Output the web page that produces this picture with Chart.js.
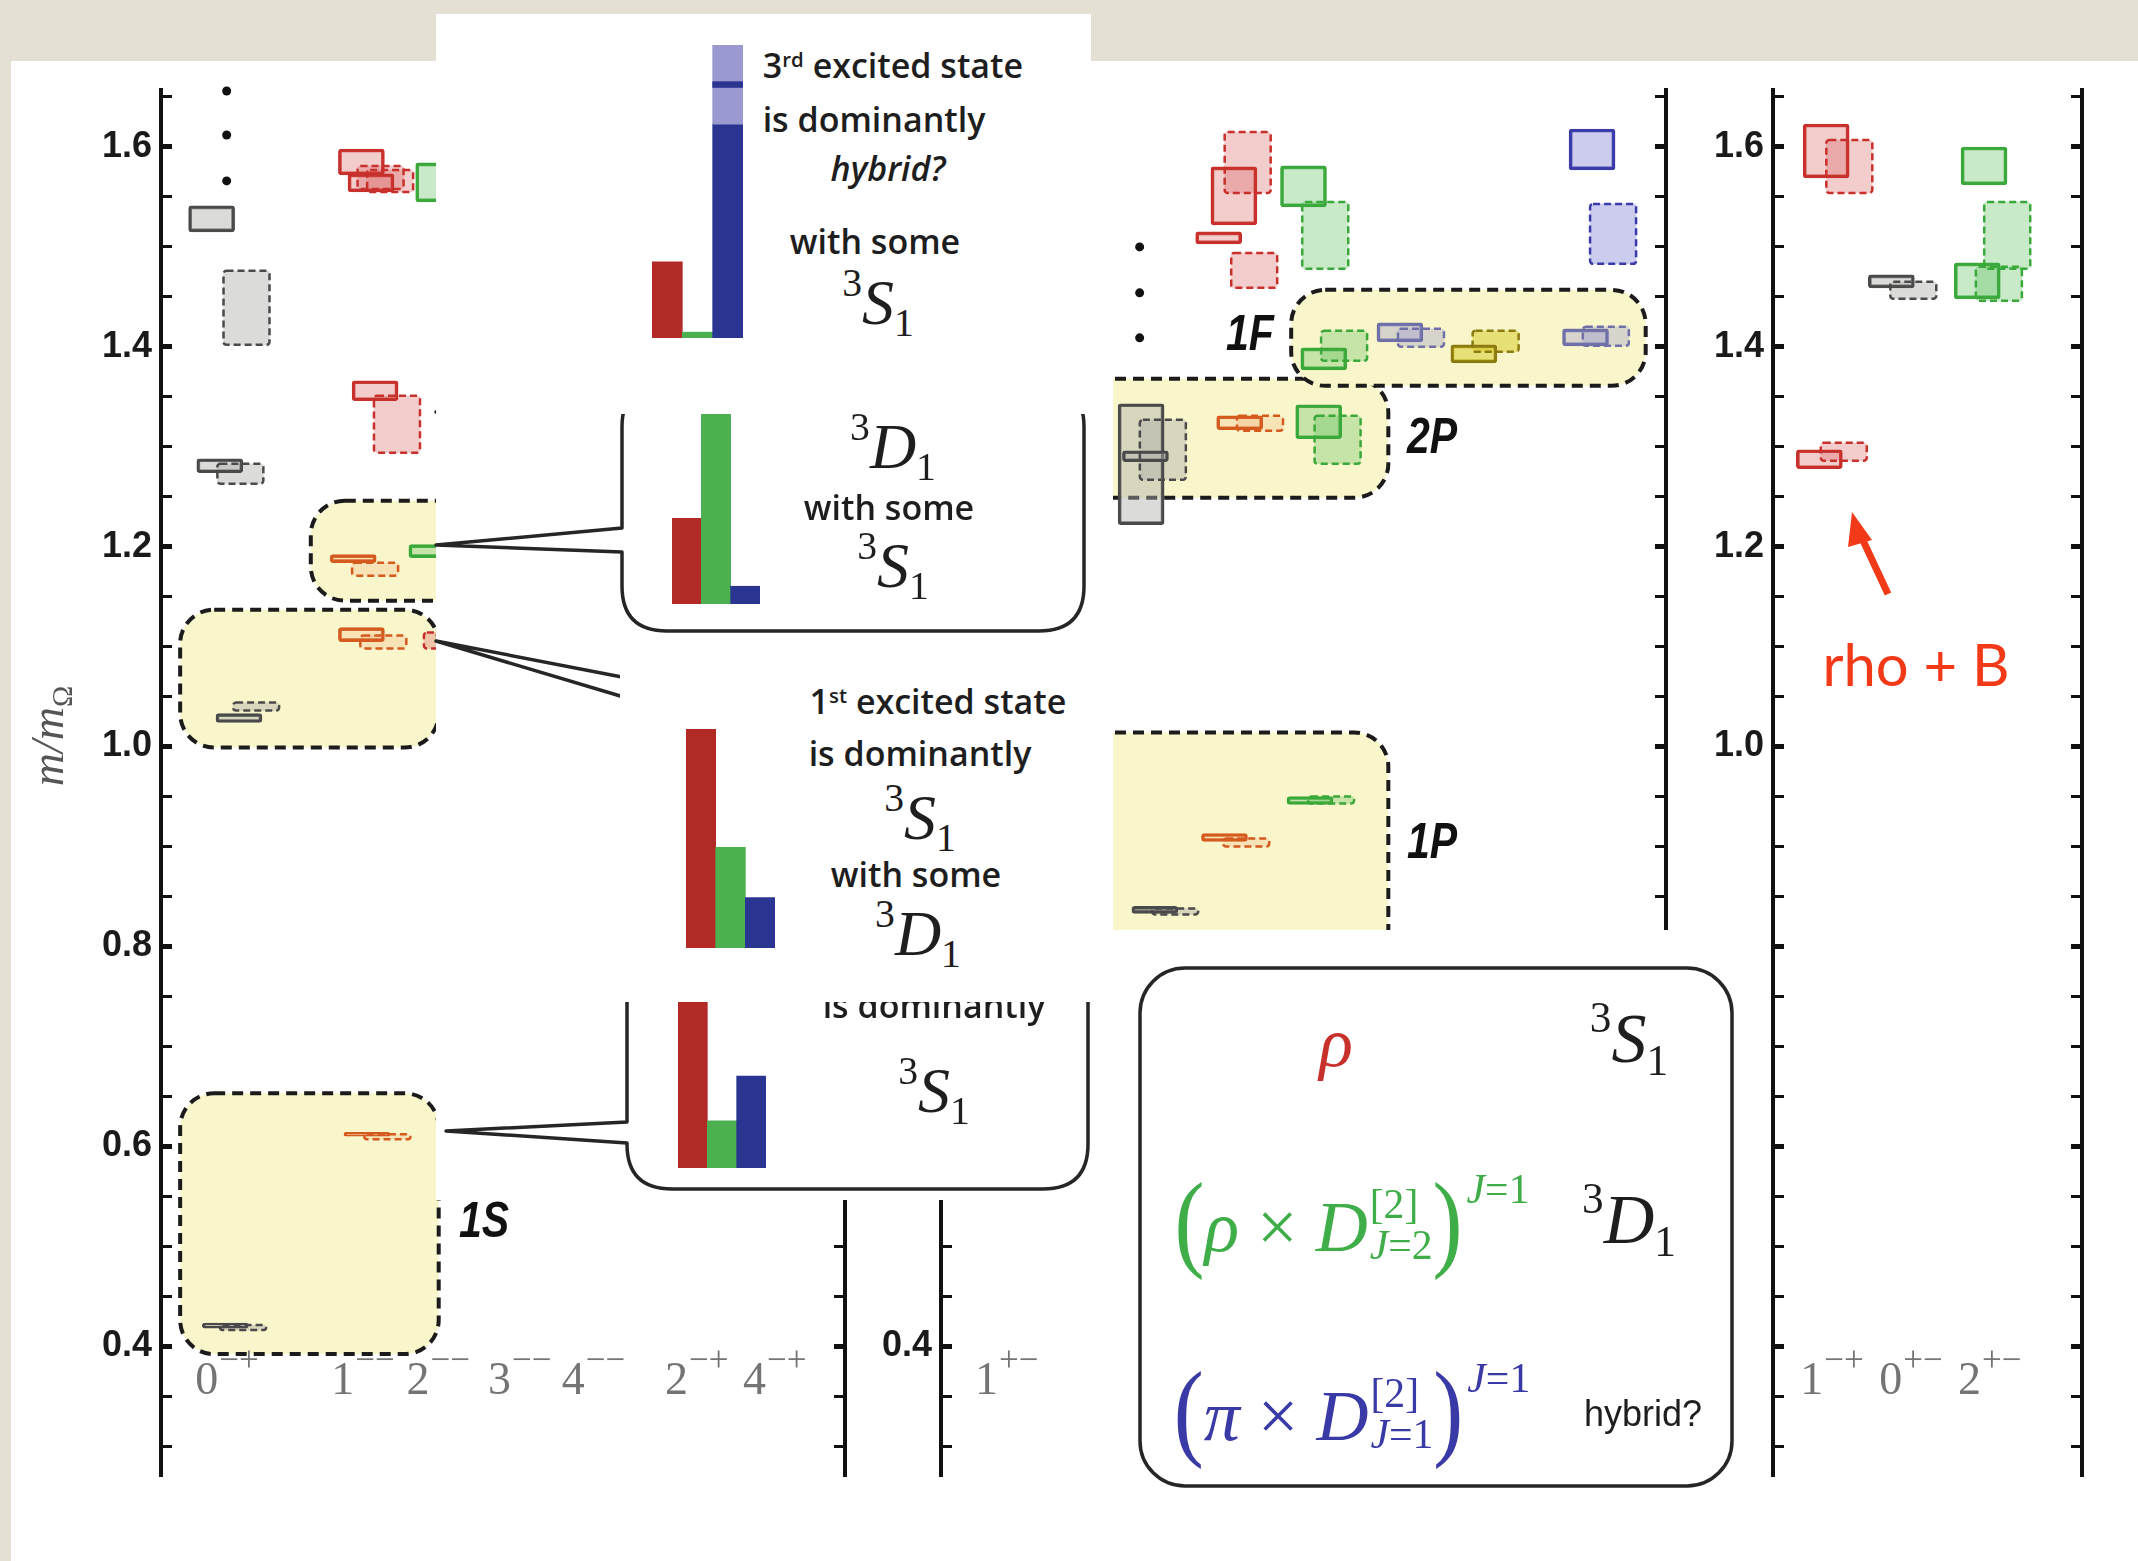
<!DOCTYPE html>
<html>
<head>
<meta charset="utf-8">
<script src="https://cdn.jsdelivr.net/npm/chart.js@4.4.1/dist/chart.umd.min.js"></script>
<style>
  body { margin: 0; width: 2138px; height: 1561px; position: relative; overflow: hidden; background: #e4e0d3; }
  .abs { position: absolute; }
  .paper { left: 11px; top: 61px; width: 2127px; height: 1500px; background: #fff; }
  .mask { position: absolute; background: #fff; }
  canvas { position: absolute; }
  svg.layer { position: absolute; left: 0; top: 0; width: 2138px; height: 1561px; pointer-events: none; }
  .say { position: absolute; transform: translate(-50%, -50%); white-space: nowrap; line-height: 1;
         font-family: 'Open Sans', 'Lato', sans-serif; font-size: 34px; font-weight: 600; color: #1e1e1e; }
  .say sup { font-size: 0.6em; vertical-align: 0.55em; line-height: 0; }
  .m { font-family: 'Liberation Serif', 'DejaVu Serif', serif; font-style: italic; font-size: 64px; font-weight: 400; }
  .u { font-style: normal; }
  .sp { font-style: normal; font-size: 0.62em; position: relative; top: -0.7em; }
  .sb { font-style: normal; font-size: 0.62em; position: relative; top: 0.3em; }
  .pr { font-style: normal; font-size: 1.25em; display: inline-block; transform: scaleY(1.2); }
  .st { display: inline-flex; flex-direction: column; font-size: 0.58em; line-height: 1.0; vertical-align: 0.8em; margin-left: 2px; }
  .hi { font-size: 0.58em; position: relative; top: -1.15em; margin-left: 4px; }
  .tag { font-family: 'Liberation Sans', Arial, sans-serif; font-weight: bold; font-style: italic; font-size: 50px; color: #111; transform: translate(-50%, -50%) scaleX(0.82); }
</style>
</head>
<body>
<div class="abs paper"></div>

<canvas id="leftPanel" width="784" height="1416" style="left:81px; top:70px; z-index:1"></canvas>
<canvas id="midPanel" width="825" height="1416" style="left:861px; top:70px; z-index:1"></canvas>
<canvas id="rightPanel" width="409" height="1416" style="left:1693px; top:70px; z-index:1"></canvas>

<div class="say m" style="left:48px; top:736px; transform:translate(-50%,-50%) rotate(-90deg); color:#555; font-size:46px; z-index:2">m/m<span class="sb">Ω</span></div>
<div class="say tag" style="left:484px; top:1220px; z-index:2">1S</div>
<div class="say tag" style="left:1250px; top:333px; z-index:2">1F</div>
<div class="say tag" style="left:1432px; top:436px; z-index:2">2P</div>
<div class="say tag" style="left:1432px; top:841px; z-index:2">1P</div>
<div class="say" style="left:1916px; top:664px; font-family:Lato, sans-serif; font-size:58px; font-weight:400; color:#f23a18; z-index:2">rho + B</div>

<div class="mask" style="left:436px; top:368px; width:677px; height:832px; z-index:2"></div>
<div class="mask" style="left:1110px; top:930px; width:649px; height:570px; z-index:2"></div>

<!-- ground state callout -->
<canvas id="overlapGroundChart" width="88" height="214" style="left:678px; top:954px; z-index:3"></canvas>
<div class="say" style="left:934px; top:955px; z-index:3">Ground state</div>
<div class="say" style="left:934px; top:1005px; z-index:3">is dominantly</div>
<div class="say m" style="left:934px; top:1091px; z-index:3"><span class="sp">3</span>S<span class="sb">1</span></div>

<!-- first excited callout -->
<div class="mask" style="left:620px; top:650px; width:475px; height:352px; z-index:4"></div>
<canvas id="overlapFirstChart" width="89" height="219" style="left:686px; top:729px; z-index:4"></canvas>
<div class="say" style="left:938px; top:701px; z-index:4">1<sup>st</sup> excited state</div>
<div class="say" style="left:920px; top:753px; z-index:4">is dominantly</div>
<div class="say m" style="left:920px; top:818px; z-index:4"><span class="sp">3</span>S<span class="sb">1</span></div>
<div class="say" style="left:916px; top:874px; z-index:4">with some</div>
<div class="say m" style="left:918px; top:934px; z-index:4"><span class="sp">3</span>D<span class="sb">1</span></div>

<!-- 3D1 callout -->
<canvas id="overlapSecondChart" width="88" height="209" style="left:672px; top:395px; z-index:5"></canvas>
<div class="say m" style="left:893px; top:447px; z-index:5"><span class="sp">3</span>D<span class="sb">1</span></div>
<div class="say" style="left:889px; top:507px; z-index:5">with some</div>
<div class="say m" style="left:893px; top:566px; z-index:5"><span class="sp">3</span>S<span class="sb">1</span></div>

<!-- third excited callout -->
<div class="mask" style="left:436px; top:14px; width:655px; height:400px; z-index:6"></div>
<canvas id="overlapThirdChart" width="91" height="293" style="left:652px; top:45px; z-index:6"></canvas>
<div class="say" style="left:893px; top:65px; z-index:6">3<sup>rd</sup> excited state</div>
<div class="say" style="left:874px; top:119px; z-index:6">is dominantly</div>
<div class="say" style="left:888px; top:168px; font-style:italic; z-index:6">hybrid?</div>
<div class="say" style="left:875px; top:241px; z-index:6">with some</div>
<div class="say m" style="left:878px; top:303px; z-index:6"><span class="sp">3</span>S<span class="sb">1</span></div>

<!-- legend box -->
<div class="say m" style="left:1336px; top:1043px; color:#c8302c; font-size:70px; z-index:7">ρ</div>
<div class="say m" style="left:1629px; top:1039px; font-size:70px; z-index:7"><span class="sp">3</span>S<span class="sb">1</span></div>
<div class="say m" style="left:1352px; top:1222px; color:#3fae49; font-size:72px; z-index:7"><span class="pr">(</span>ρ <span class="u">×</span> D<span class="st"><span class="u">[2]</span><span>J<span class="u">=2</span></span></span><span class="pr">)</span><span class="hi">J<span class="u">=1</span></span></div>
<div class="say m" style="left:1629px; top:1220px; font-size:70px; z-index:7"><span class="sp">3</span>D<span class="sb">1</span></div>
<div class="say m" style="left:1352px; top:1411px; color:#3a3aa6; font-size:72px; z-index:7"><span class="pr">(</span>π <span class="u">×</span> D<span class="st"><span class="u">[2]</span><span>J<span class="u">=1</span></span></span><span class="pr">)</span><span class="hi">J<span class="u">=1</span></span></div>
<div class="say" style="left:1643px; top:1414px; font-family:'Liberation Sans', Arial, sans-serif; font-size:36px; font-weight:400; z-index:7">hybrid?</div>

<script>
// mass axis
const yMin = 0.27;
const yMax = 1.657;
const jpcBaseline = 0.352;

// boxes: [column position (0-100 across the panel), low, high] in m/m_Omega
const leftGreySolid = [[7.4, 1.515, 1.541], [8.6, 1.274, 1.288], [11.4, 1.024, 1.033], [9.4, 0.418, 0.423]];
const leftGreyDashed = [[12.5, 1.402, 1.476], [11.6, 1.263, 1.283], [13.9, 1.036, 1.044], [12.0, 0.416, 0.421]];
const leftRedSolid = [[29.3, 1.572, 1.598], [30.7, 1.555, 1.573], [31.3, 1.346, 1.366]];
const leftRedDashed = [[32.1, 1.558, 1.581], [33.5, 1.555, 1.577], [34.5, 1.294, 1.351], [41.8, 1.098, 1.114]];
const leftOrangeSolid = [[28.1, 1.184, 1.192], [29.3, 1.105, 1.119], [30.1, 0.610, 0.614]];
const leftOrangeDashed = [[31.3, 1.171, 1.184], [32.5, 1.098, 1.111], [33.1, 0.607, 0.612]];
const leftGreenSolid = [[40.6, 1.545, 1.584], [39.6, 1.189, 1.202]];
const leftDots = [[9.6, 1.566], [9.6, 1.612], [9.6, 1.656]];

const midGreySolid = [[27.6, 1.222, 1.343], [28.2, 1.285, 1.296], [29.5, 0.833, 0.840]];
const midGreyDashed = [[30.6, 1.267, 1.327], [32.3, 0.832, 0.838]];
const midRedSolid = [[40.4, 1.522, 1.580], [38.3, 1.503, 1.515]];
const midRedDashed = [[42.3, 1.554, 1.615], [43.2, 1.459, 1.494]];
const midOrangeSolid = [[41.2, 1.317, 1.331], [39.1, 0.905, 0.913]];
const midOrangeDashed = [[44.0, 1.316, 1.331], [42.1, 0.900, 0.908]];
const midGreenSolid = [[50.0, 1.540, 1.581], [52.1, 1.308, 1.342], [52.8, 1.377, 1.399], [50.9, 0.942, 0.950]];
const midGreenDashed = [[53.0, 1.478, 1.545], [54.7, 1.283, 1.331], [55.6, 1.386, 1.416], [53.8, 0.943, 0.950]];
const midPurpleSolid = [[63.3, 1.405, 1.424], [88.9, 1.401, 1.418]];
const midPurpleDashed = [[66.2, 1.400, 1.418], [91.7, 1.401, 1.420]];
const midYellowSolid = [[73.5, 1.384, 1.402]];
const midYellowDashed = [[76.5, 1.395, 1.416]];
const midBlueSolid = [[89.8, 1.577, 1.618]];
const midBlueDashed = [[92.7, 1.483, 1.543]];
const midDots = [[27.4, 1.409], [27.4, 1.454], [27.4, 1.500]];

const rightRedSolid = [[17.2, 1.569, 1.623], [15.0, 1.278, 1.297]];
const rightRedDashed = [[24.7, 1.554, 1.607], [22.9, 1.286, 1.304]];
const rightGreySolid = [[38.3, 1.459, 1.472]];
const rightGreyDashed = [[45.4, 1.448, 1.465]];
const rightGreenSolid = [[68.3, 1.562, 1.600], [66.1, 1.448, 1.484]];
const rightGreenDashed = [[75.8, 1.478, 1.545], [73.1, 1.446, 1.480]];

// highlighted multiplets: [x from, x to, mass from, mass to]
const leftRegions = [[2.8, 40.6, 0.392, 0.653], [2.8, 40.6, 0.999, 1.137], [21.9, 90, 1.146, 1.246]];
const midRegions = [[-8, 61.7, 0.70, 1.014], [-8, 61.7, 1.249, 1.368], [48.3, 97.2, 1.361, 1.457]];

// J^PC tick labels
const leftJpc = ['0-+', '1--', '2--', '3--', '4--', '2-+', '4-+'];
const leftJpcAt = [5.0, 24.9, 35.9, 47.8, 58.6, 73.7, 85.1];
const midJpc = ['1+-'];
const midJpcAt = [4.7];
const rightJpc = ['1-+', '0+-', '2+-'];
const rightJpcAt = [8.8, 34.4, 59.9];

// operator overlaps shown in the callouts (rho, rho x D, pi x D)
const componentNames = ['rho', 'rhoD', 'piD'];
const overlapGround = [1.0, 0.22, 0.43];
const overlapFirst = [1.0, 0.46, 0.23];
const overlapSecond = [0.41, 1.0, 0.085];
const overlapThird = [0.26, 0.02, 0.73];
const overlapThirdBand = [null, null, [0.73, 1.0]];
const overlapThirdCentral = [null, null, [0.855, 0.875]];

const palette = {
    grey: { fill: 'rgba(175,175,170,0.45)', line: '#4a4a4a' },
    red: { fill: 'rgba(222,110,110,0.35)', line: '#c8302c' },
    orange: { fill: 'rgba(240,170,120,0.25)', line: '#d45a1e' },
    green: { fill: 'rgba(100,195,100,0.35)', line: '#3aa83a' },
    blue: { fill: 'rgba(110,110,210,0.35)', line: '#3a3aa8' },
    purple: { fill: 'rgba(150,150,205,0.35)', line: '#7070a8' },
    yellow: { fill: 'rgba(215,205,50,0.55)', line: '#8a7a10' }
};
const barColours = ['#b22a25', '#4caf50', '#2a3592'];

function boxes(list, colour, dashed) {
    return {
        data: list.map(([x, lo, hi]) => ({ x: x, y: [lo, hi] })),
        backgroundColor: palette[colour].fill,
        borderColor: palette[colour].line,
        borderWidth: dashed ? 0 : 3,
        borderSkipped: false,
        borderRadius: 3,
        barThickness: 46,
        grouped: false,
        dashed: dashed,
        dashColor: palette[colour].line
    };
}

function dots(list) {
    return {
        type: 'scatter',
        data: list.map(([x, y]) => ({ x: x, y: y })),
        pointRadius: 4.5,
        backgroundColor: '#111',
        borderWidth: 0,
        clip: false
    };
}

// dashed outline for the second operator basis
const dashPlugin = {
    id: 'dashedBoxes',
    afterDatasetsDraw(chart) {
        const ctx = chart.ctx;
        const area = chart.chartArea;
        chart.data.datasets.forEach((ds, i) => {
            if (!ds.dashed) return;
            const meta = chart.getDatasetMeta(i);
            ctx.save();
            ctx.beginPath();
            ctx.rect(area.left, area.top, area.width, area.height);
            ctx.clip();
            ctx.setLineDash([7, 4]);
            ctx.lineWidth = 2.5;
            ctx.strokeStyle = ds.dashColor;
            meta.data.forEach(bar => {
                const p = bar.getProps(['x', 'y', 'base', 'width'], true);
                const top = Math.min(p.y, p.base);
                const h = Math.max(Math.abs(p.base - p.y), 4);
                ctx.beginPath();
                ctx.roundRect(p.x - p.width / 2, top, p.width, h, 3);
                ctx.stroke();
            });
            ctx.restore();
        });
    }
};

function regionPlugin(list) {
    return {
        id: 'regions',
        beforeDatasetsDraw(chart) {
            const { ctx, scales: { x, y } } = chart;
            ctx.save();
            list.forEach(([x0, x1, y0, y1]) => {
                const l = x.getPixelForValue(x0), r = x.getPixelForValue(x1);
                const t = y.getPixelForValue(y1), b = y.getPixelForValue(y0);
                ctx.beginPath();
                ctx.roundRect(l, t, r - l, b - t, 34);
                ctx.fillStyle = '#faf6cb';
                ctx.fill();
                ctx.setLineDash([11, 7]);
                ctx.lineWidth = 4;
                ctx.strokeStyle = '#1b1b1b';
                ctx.stroke();
            });
            ctx.restore();
        }
    };
}

function jpcPlugin(labels, at) {
    return {
        id: 'jpc',
        afterDatasetsDraw(chart) {
            const { ctx, scales: { x, y } } = chart;
            const base = y.getPixelForValue(jpcBaseline);
            ctx.save();
            ctx.fillStyle = '#747474';
            ctx.textBaseline = 'alphabetic';
            labels.forEach((lab, i) => {
                let px = x.getPixelForValue(at[i]);
                ctx.font = '46px "Liberation Serif"';
                ctx.fillText(lab[0], px, base);
                px += ctx.measureText(lab[0]).width + 1;
                ctx.font = '35px "Liberation Serif"';
                ctx.fillText(lab.slice(1).replace(/-/g, '\u2212'), px, base - 23);
            });
            ctx.restore();
        }
    };
}

const isMajor = v => Math.abs(v * 5 - Math.round(v * 5)) < 1e-6;

function panelChart(id, datasets, regions, jpc, jpcAt, showLabel) {
    return new Chart(document.getElementById(id), {
        type: 'bar',
        data: { datasets: datasets },
        options: {
            responsive: false,
            animation: false,
            layout: { padding: { top: 20, bottom: 10, left: 0, right: 0 } },
            plugins: { legend: { display: false }, tooltip: { enabled: false } },
            scales: {
                x: { type: 'linear', min: 0, max: 100, offset: false, display: false },
                y: {
                    min: yMin, max: yMax, position: 'left',
                    border: { color: '#111', width: 4 },
                    grid: {
                        drawOnChartArea: false, tickLength: -11, tickColor: '#111',
                        tickWidth: c => isMajor(c.tick.value) ? 5 : 3
                    },
                    ticks: {
                        stepSize: 0.05, includeBounds: false, autoSkip: false, padding: 20,
                        color: '#1a1a1a', font: { family: 'Liberation Sans', weight: 'bold', size: 36 },
                        callback: v => (isMajor(v) && showLabel(v)) ? v.toFixed(1) : ''
                    },
                    afterFit: s => { s.width = 80; s.paddingTop = 0; s.paddingBottom = 0; }
                },
                y2: {
                    min: yMin, max: yMax, position: 'right',
                    border: { color: '#111', width: 4 },
                    grid: {
                        drawOnChartArea: false, tickLength: -11, tickColor: '#111',
                        tickWidth: c => isMajor(c.tick.value) ? 5 : 3
                    },
                    ticks: { stepSize: 0.05, includeBounds: false, autoSkip: false, display: false },
                    afterFit: s => { s.width = 20; s.paddingTop = 0; s.paddingBottom = 0; }
                }
            }
        },
        plugins: [regionPlugin(regions), dashPlugin, jpcPlugin(jpc, jpcAt)]
    });
}

panelChart('leftPanel', [
    boxes(leftGreySolid, 'grey', false), boxes(leftGreyDashed, 'grey', true),
    boxes(leftRedSolid, 'red', false), boxes(leftRedDashed, 'red', true),
    boxes(leftOrangeSolid, 'orange', false), boxes(leftOrangeDashed, 'orange', true),
    boxes(leftGreenSolid, 'green', false), dots(leftDots)
], leftRegions, leftJpc, leftJpcAt, () => true);

panelChart('midPanel', [
    boxes(midGreySolid, 'grey', false), boxes(midGreyDashed, 'grey', true),
    boxes(midRedSolid, 'red', false), boxes(midRedDashed, 'red', true),
    boxes(midOrangeSolid, 'orange', false), boxes(midOrangeDashed, 'orange', true),
    boxes(midGreenSolid, 'green', false), boxes(midGreenDashed, 'green', true),
    boxes(midPurpleSolid, 'purple', false), boxes(midPurpleDashed, 'purple', true),
    boxes(midYellowSolid, 'yellow', false), boxes(midYellowDashed, 'yellow', true),
    boxes(midBlueSolid, 'blue', false), boxes(midBlueDashed, 'blue', true),
    dots(midDots)
], midRegions, midJpc, midJpcAt, () => true);

panelChart('rightPanel', [
    boxes(rightRedSolid, 'red', false), boxes(rightRedDashed, 'red', true),
    boxes(rightGreySolid, 'grey', false), boxes(rightGreyDashed, 'grey', true),
    boxes(rightGreenSolid, 'green', false), boxes(rightGreenDashed, 'green', true)
], [], rightJpc, rightJpcAt, v => v > 0.99);

function overlapChart(id, values, extra) {
    const datasets = [{ data: values, backgroundColor: barColours, grouped: false, barPercentage: 1, categoryPercentage: 1, order: 5 }];
    (extra || []).forEach((e, k) => datasets.push({ data: e.data, backgroundColor: e.colour, grouped: false, barPercentage: 1, categoryPercentage: 1, order: 4 - k }));
    new Chart(document.getElementById(id), {
        type: 'bar',
        data: { labels: componentNames, datasets: datasets },
        options: {
            responsive: false,
            animation: false,
            layout: { padding: 0 },
            plugins: { legend: { display: false }, tooltip: { enabled: false } },
            scales: { x: { display: false }, y: { display: false, min: 0, max: 1 } }
        }
    });
}

overlapChart('overlapGroundChart', overlapGround);
overlapChart('overlapFirstChart', overlapFirst);
overlapChart('overlapSecondChart', overlapSecond);
overlapChart('overlapThirdChart', overlapThird, [
    { data: overlapThirdBand, colour: '#9a9ad0' },
    { data: overlapThirdCentral, colour: '#2a3592' }
]);

// speech bubbles, arrow and legend frame
function bubble(x, y, w, h, r, t1, t2, tipX, tipY) {
    const p = [`M ${x + r} ${y}`, `H ${x + w - r}`, `Q ${x + w} ${y} ${x + w} ${y + r}`,
        `V ${y + h - r}`, `Q ${x + w} ${y + h} ${x + w - r} ${y + h}`, `H ${x + r}`];
    if (t2 > y + h - r) p.push(`Q ${x} ${y + h} ${x} ${t2}`);
    else p.push(`Q ${x} ${y + h} ${x} ${y + h - r}`, `V ${t2}`);
    p.push(`L ${tipX} ${tipY}`, `L ${x} ${t1}`);
    if (t1 < y + r) p.push(`Q ${x} ${y} ${x + r} ${y}`);
    else p.push(`V ${y + r}`, `Q ${x} ${y} ${x + r} ${y}`);
    p.push('Z');
    return p.join(' ');
}

function addLayer(z, inner) {
    const svg = document.createElementNS('http://www.w3.org/2000/svg', 'svg');
    svg.setAttribute('class', 'layer');
    svg.setAttribute('viewBox', '0 0 2138 1561');
    svg.style.zIndex = z;
    svg.innerHTML = inner;
    const firstOfZ = [...document.body.children].find(el => el !== svg && el.style && +el.style.zIndex === z && el.tagName !== 'SCRIPT');
    document.body.insertBefore(svg, firstOfZ || null);
}

const bubbleStyle = 'fill="#fff" stroke="#262626" stroke-width="3.5" stroke-linejoin="round"';
addLayer(3, `<path d="${bubble(627, 955, 461, 234, 45, 1122, 1143, 446, 1131)}" ${bubbleStyle}/>`);
addLayer(4, `<path d="${bubble(627, 657, 464, 336, 45, 678, 698, 436, 641)}" ${bubbleStyle}/>`);
addLayer(5, `<path d="${bubble(622, 382, 462, 249, 45, 528, 552, 436, 545)}" ${bubbleStyle}/>`);
addLayer(6, `<path d="${bubble(604, 18, 473, 345, 45, 326, 350, 436, 412)}" ${bubbleStyle}/>`);
addLayer(7, `<rect x="1140" y="968" width="592" height="518" rx="45" ${bubbleStyle}/>`);
addLayer(2, `<line x1="1888" y1="594" x2="1860" y2="534" stroke="#f23a18" stroke-width="7"/>
  <polygon points="1852,512 1872,540 1848,547" fill="#f23a18"/>`);
</script>
</body>
</html>
